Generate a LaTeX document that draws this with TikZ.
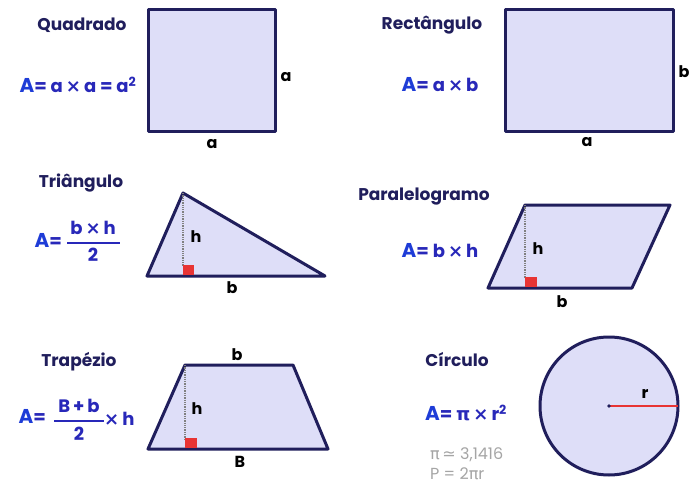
\documentclass[tikz,border=0pt]{standalone}
\usepackage{fontspec}
\setmainfont{Poppins}
\newfontfamily\symfont{DejaVu Sans}

\definecolor{shapefill}{RGB}{222,222,248}
\definecolor{edge}{RGB}{32,30,92}
\definecolor{formula}{RGB}{40,40,185}
\definecolor{bigA}{RGB}{30,60,215}
\definecolor{rightred}{RGB}{232,52,52}
\definecolor{note}{RGB}{165,165,165}

\newcommand{\bigA}{{\color{bigA}\fontsize{20}{20}\selectfont A}}
\newcommand{\by}{\,{\symfont\bfseries×}\,}

\begin{document}
\begin{tikzpicture}[
    x=1pt, y=-1pt,
    figure/.style={
        draw=edge,
        fill=shapefill,
        line width=3pt,
        line join=round
    },
    title/.style={font=\bfseries\fontsize{17}{19}\selectfont, text=edge, inner sep=0pt},
    formula/.style={font=\bfseries\fontsize{18}{20}\selectfont, text=formula, inner sep=0pt},
    side/.style={font=\bfseries\fontsize{16}{18}\selectfont, text=black, inner sep=0pt},
    note/.style={font=\fontsize{16}{18}\selectfont, text=note, inner sep=0pt},
    height/.style={densely dotted, line width=1.3pt, draw=gray},
    corner/.style={fill=rightred}
]

\useasboundingbox[fill=white] (0,0) rectangle (697,487);

% Quadrado
\node[title] (tsq) at (82,25) {Quadrado};
\node[formula] (fsq) at (78,85) {\bigA= a\by a = a\textsuperscript{2}};
\draw[figure] (148,10) rectangle (275,132);
\node[side] (sqa) at (286,77) {a};
\node[side] (sqb) at (212,144) {a};

% Rectangulo
\node[title] (trect) at (432,25) {Rectângulo};
\node[formula] (frect) at (440,85) {\bigA= a\by b};
\draw[figure] (505,10) rectangle (673,132);
\node[side] (rectb) at (684,72) {b};
\node[side] (recta) at (587,142) {a};

% Triangulo
\node[title] (ttri) at (81,183) {Triângulo};
\node[formula, anchor=east] (tria) at (62,240) {\bigA=};
\node[formula] (trinum) at (93,228) {b\by h};
\node[formula] (triden) at (93,255) {2};
\draw[line width=1.8pt, draw=formula] (67,243) -- (120,243);
\draw[figure] (147,276) -- (183,193) -- (325,276) -- cycle;
\draw[height] (183,193) -- (183,266);
\fill[corner] (183,265) rectangle (194,275);
\node[side] (trih) at (196,237) {h};
\node[side] (trib) at (232,288) {b};

% Paralelogramo
\node[title] (tpar) at (424,197) {Paralelogramo};
\node[formula] (fpar) at (440,251) {\bigA= b\by h};
\draw[figure] (488,288) -- (525,205) -- (670,205) -- (632,288) -- cycle;
\draw[height] (525,205) -- (525,278);
\fill[corner] (525,277) rectangle (537,287);
\node[side] (parh) at (538,249) {h};
\node[side] (parb) at (562,302) {b};

% Trapezio
\node[title] (ttrap) at (79,362) {Trapézio};
\node[formula, anchor=east] (trapa) at (46,416) {\bigA=};
\node[formula] (trapnum) at (79,406) {B\,+\,b};
\node[formula] (trapden) at (79,434) {2};
\draw[line width=1.8pt, draw=formula] (54,421) -- (104,421);
\node[formula, anchor=west] (trapx) at (104,419) {{\symfont\bfseries×}\,h};
\draw[figure] (148,449) -- (185,365) -- (293,365) -- (328,449) -- cycle;
\draw[height] (185,365) -- (185,439);
\fill[corner] (185,438) rectangle (197,448);
\node[side] (traph) at (197,409) {h};
\node[side] (trapb) at (237,355) {b};
\node[side] (trapB) at (240,462) {B};

% Circulo
\node[title] (tcirc) at (457,360) {Círculo};
\node[formula] (fcirc) at (466,413) {\bigA= {\symfont\bfseries π}\by r\textsuperscript{2}};
\node[note, anchor=west] (pinote) at (430,455) {{\symfont π\,≃} 3,1416};
\node[note, anchor=west] (perim) at (430,474) {P = 2{\symfont π}r};
\draw[figure] (609,406) circle (69);
\draw[line width=2pt, draw=rightred] (609,406) -- (678,406);
\fill[edge] (609,406) circle (1.8);
\node[side] (circr) at (645,394) {r};

\end{tikzpicture}
\end{document}
